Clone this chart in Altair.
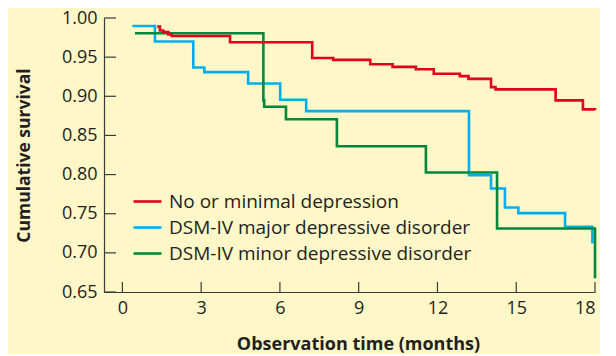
import altair as alt
import pandas as pd

# ---- data ----
series_names = ["No or minimal depression",
                "DSM-IV major depressive disorder",
                "DSM-IV minor depressive disorder"]
series_colors = ["#E3001B", "#00AEEF", "#00873C"]

red_t = [1.33, 1.43, 1.56, 1.75, 1.88, 4.10, 7.23, 8.03, 9.44, 10.29, 11.18,
         11.86, 12.85, 13.18, 14.04, 14.21, 16.50, 17.54, 18.00]
red_s = [0.989, 0.984, 0.982, 0.979, 0.977, 0.969, 0.949, 0.9465, 0.941, 0.9376,
         0.9346, 0.9287, 0.9257, 0.9223, 0.9117, 0.9088, 0.8948, 0.8833, 0.8826]

blue_t = [0.38, 1.24, 2.70, 3.12, 4.79, 6.01, 7.00, 13.20, 14.04, 14.57, 15.08,
          16.86, 17.90]
blue_s = [0.9898, 0.970, 0.9368, 0.9308, 0.9164, 0.8955, 0.8811, 0.7992, 0.7822,
          0.758, 0.7508, 0.7334, 0.712]

green_t = [0.48, 5.37, 5.40, 6.23, 8.17, 11.56, 14.27, 18.00]
green_s = [0.9805, 0.8948, 0.8866, 0.8706, 0.8362, 0.8026, 0.7312, 0.6675]

x_ticks = [0, 3, 6, 9, 12, 15, 18]
y_ticks = [0.65, 0.70, 0.75, 0.80, 0.85, 0.90, 0.95, 1.00]

# ---- build tables ----
rows = []
for name, ts, ss in zip(series_names, [red_t, blue_t, green_t],
                        [red_s, blue_s, green_s]):
    for t, s in zip(ts, ss):
        rows.append({"t": t, "s": s, "group": name})
df = pd.DataFrame(rows)

TEXT = "#231F20"
BG = "#FFF7C7"
FONT = "Open Sans"
H = 274

xscale = alt.Scale(domain=[-0.7, 18], nice=False, zero=False)
yscale = alt.Scale(domain=[0.65, 1.0], nice=False, zero=False)
xaxis = alt.Axis(values=x_ticks, ticks=False, grid=False, labelPadding=7,
                 title="Observation time (months)", titleX=254, titlePadding=18,
                 titleFontSize=18)
yaxis = alt.Axis(values=y_ticks, ticks=False, grid=False, format=".2f",
                 labelPadding=7, title="Cumulative survival", titlePadding=28)

X = alt.X("t:Q", scale=xscale, axis=xaxis)
Y = alt.Y("s:Q", scale=yscale, axis=yaxis)


def line_layer(name):
    return alt.Chart(df[df.group == name]).mark_line(
        interpolate="step-after", strokeWidth=2.6, strokeJoin="miter", strokeCap="butt"
    ).encode(
        x=X, y=Y,
        color=alt.Color("group:N",
                        scale=alt.Scale(domain=series_names, range=series_colors),
                        sort=series_names,
                        legend=alt.Legend(title=None, orient="none", legendX=28,
                                          legendY=168, symbolType="stroke",
                                          symbolSize=784, symbolStrokeWidth=2.6,
                                          labelFontSize=19, labelFont=FONT,
                                          labelColor=TEXT, rowPadding=0,
                                          labelOffset=6, labelLimit=400)),
    )


xt = alt.Chart(pd.DataFrame({"t": x_ticks})).mark_rule(
    color="#3a3a3a", strokeWidth=1.2).encode(
    x=X, y=alt.value(H - 10), y2=alt.value(H))
yt = alt.Chart(pd.DataFrame({"s": y_ticks})).mark_rule(
    color="#3a3a3a", strokeWidth=1.2).encode(
    y=Y, x=alt.value(0), x2=alt.value(12))

chart = alt.layer(
    xt, yt,
    line_layer(series_names[1]),
    line_layer(series_names[2]),
    line_layer(series_names[0]),
).properties(
    width=491, height=H,
    autosize=alt.AutoSizeParams(type="none"),
    padding={"left": 96, "top": 10, "right": 5, "bottom": 62},
    background=BG,
).configure_view(
    stroke=None, fill=BG
).configure_axis(
    domainColor="#3a3a3a", domainWidth=1.2,
    labelFont=FONT, labelFontSize=18, labelColor=TEXT,
    titleFont=FONT, titleFontSize=17.5, titleFontWeight="bold", titleColor=TEXT,
)

chart.save("out.html", embed_options={"renderer": "svg", "actions": False})
